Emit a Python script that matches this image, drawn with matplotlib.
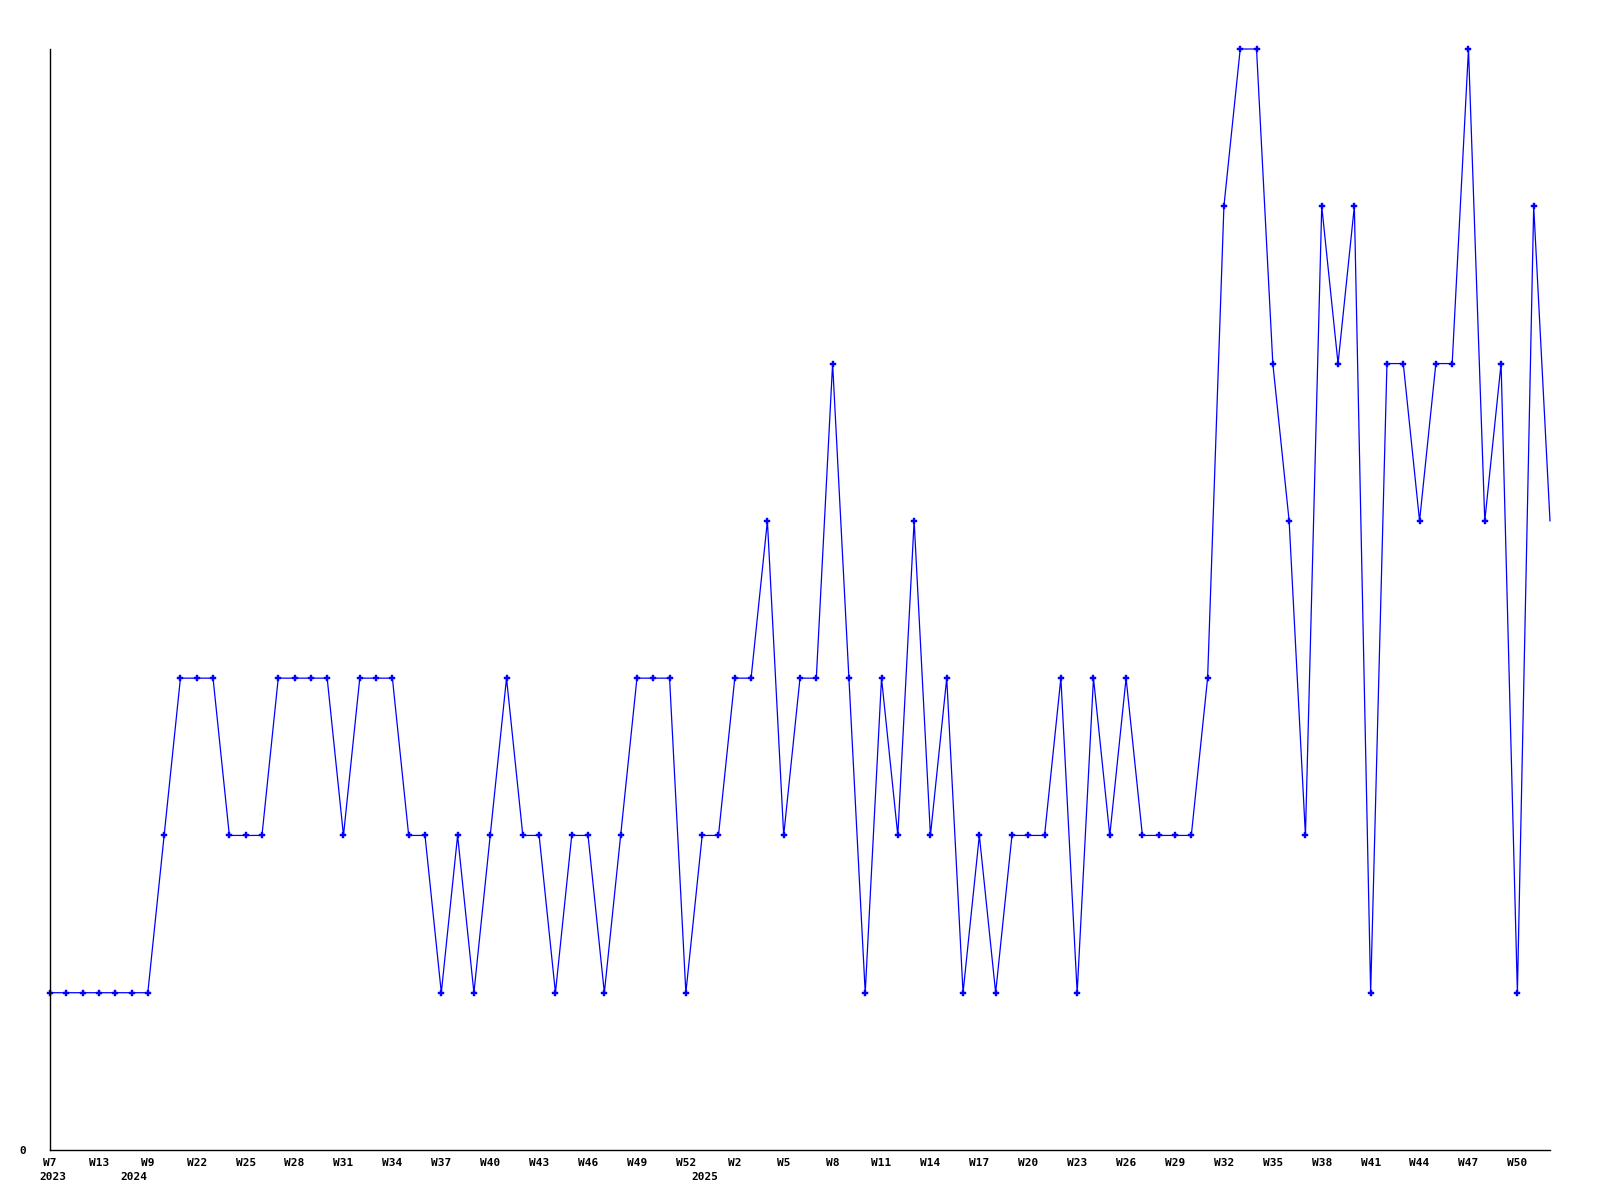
import matplotlib
matplotlib.use("Agg")
import matplotlib.pyplot as plt

# weekly counts, one per week shown
counts = [1, 1, 1, 1, 1, 1, 1, 2, 3, 3,
          3, 2, 2, 2, 3, 3, 3, 3, 2, 3,
          3, 3, 2, 2, 1, 2, 1, 2, 3, 2,
          2, 1, 2, 2, 1, 2, 3, 3, 3, 1,
          2, 2, 3, 3, 4, 2, 3, 3, 5, 3,
          1, 3, 2, 4, 2, 3, 1, 2, 1, 2,
          2, 2, 3, 1, 3, 2, 3, 2, 2, 2,
          2, 3, 6, 7, 7, 5, 4, 2, 6, 5,
          6, 1, 5, 5, 4, 5, 5, 7, 4, 5,
          1, 6, 4]

week_labels = ["W7", "W13", "W9", "W22", "W25", "W28", "W31", "W34", "W37", "W40",
               "W43", "W46", "W49", "W52", "W2", "W5", "W8", "W11", "W14", "W17",
               "W20", "W23", "W26", "W29", "W32", "W35", "W38", "W41", "W44", "W47",
               "W50"]
week_pos = list(range(0, 91, 3))

year_labels = ["2023", "2024", "2025"]
year_pos = [0, 5, 40]

font = dict(family="DejaVu Sans Mono", fontweight="bold", fontsize=8)

fig = plt.figure(figsize=(16, 12), dpi=100)
ax = fig.add_axes([50 / 1600, 1 - 1150 / 1200, 1500 / 1600, 1101 / 1200])

x = list(range(len(counts)))
ax.plot(x, counts, color="#0000ff", linewidth=0.9, marker="P", markersize=4.5,
        markeredgewidth=0.3, clip_on=False,
        markevery=list(range(len(counts) - 1)))

ax.set_xlim(0, len(counts) - 1)
ax.set_ylim(0, 7)

for side in ["top", "right"]:
    ax.spines[side].set_visible(False)
for side in ["left", "bottom"]:
    ax.spines[side].set_color("black")
    ax.spines[side].set_linewidth(1.0)

ax.set_yticks([0])
ax.set_yticklabels(["0"], **font)
ax.tick_params(axis="y", length=0, pad=17)

ax.set_xticks(week_pos)
ax.set_xticklabels(week_labels, **font)
ax.tick_params(axis="x", length=0, pad=6)

for lbl, pos in zip(year_labels, year_pos):
    ax.annotate(lbl, xy=(pos, 0), xycoords=("data", "axes fraction"),
                xytext=(2, -16), textcoords="offset points",
                ha="center", va="top", **font)

fig.savefig("out.png", dpi=100, facecolor="white")
